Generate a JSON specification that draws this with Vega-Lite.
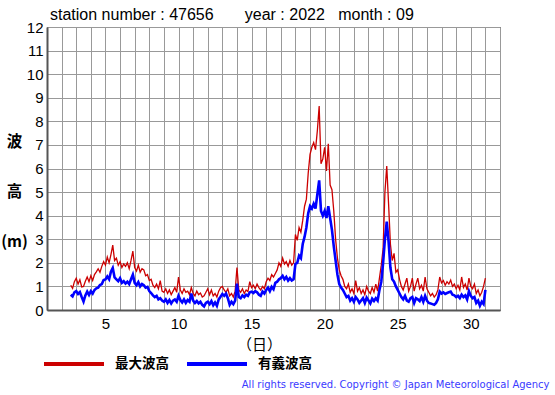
{
  "$schema": "https://vega.github.io/schema/vega-lite/v6.json",
  "width": 453,
  "height": 283,
  "autosize": {"type": "none"},
  "padding": {"left": 47, "top": 27, "right": 55, "bottom": 85},
  "background": "white",
  "title": {
    "text": "station number : 47656\u00a0\u00a0\u00a0\u00a0\u00a0\u00a0 year : 2022\u00a0\u00a0 month : 09",
    "anchor": "start",
    "frame": "group",
    "dx": 3,
    "dy": 22,
    "offset": 6,
    "baseline": "alphabetic",
    "font": "Liberation Sans",
    "fontSize": 16,
    "fontWeight": "normal",
    "color": "#000000"
  },
  "config": {
    "view": {"stroke": "#222222", "strokeWidth": 1},
    "axis": {
      "gridColor": "#999999",
      "gridWidth": 1,
      "gridOpacity": 1,
      "ticks": false,
      "domainColor": "#555555",
      "domainWidth": 2,
      "labelFont": "Liberation Sans",
      "labelFontSize": 15,
      "labelColor": "#000000",
      "labelFlush": false,
      "labelOverlap": false
    },
    "legend": {
      "orient": "none",
      "legendX": -5,
      "legendY": 305,
      "direction": "horizontal",
      "columns": 2,
      "padding": 0,
      "symbolType": "stroke",
      "symbolSize": 3600,
      "symbolStrokeWidth": 4,
      "labelFont": "Noto Sans CJK JP",
      "labelFontWeight": "bold",
      "labelFontSize": 13.5,
      "labelColor": "#000000",
      "labelOffset": 9,
      "columnPadding": 10,
      "title": null
    }
  },
  "data": {
    "values": [
      {"t":2.625,"max":1.05,"sig":0.65},{"t":2.75,"max":0.92,"sig":0.58},{"t":2.875,"max":1.2,"sig":0.75},
      {"t":3.0,"max":1.35,"sig":0.8},{"t":3.125,"max":1.1,"sig":0.68},{"t":3.25,"max":1.28,"sig":0.76},{"t":3.375,"max":0.98,"sig":0.55},{"t":3.5,"max":1.0,"sig":0.36},{"t":3.625,"max":1.22,"sig":0.62},{"t":3.75,"max":1.4,"sig":0.78},{"t":3.875,"max":1.2,"sig":0.64},
      {"t":4.0,"max":1.45,"sig":0.8},{"t":4.125,"max":1.25,"sig":0.7},{"t":4.25,"max":1.5,"sig":0.85},{"t":4.375,"max":1.62,"sig":0.92},{"t":4.5,"max":1.75,"sig":0.95},{"t":4.625,"max":1.6,"sig":1.06},{"t":4.75,"max":1.85,"sig":1.1},{"t":4.875,"max":2.05,"sig":1.27},
      {"t":5.0,"max":1.9,"sig":1.3},{"t":5.125,"max":2.25,"sig":1.42},{"t":5.25,"max":2.0,"sig":1.3},{"t":5.375,"max":2.35,"sig":1.62},{"t":5.5,"max":2.75,"sig":1.78},{"t":5.625,"max":2.1,"sig":1.38},{"t":5.75,"max":2.2,"sig":1.3},{"t":5.875,"max":1.9,"sig":1.22},
      {"t":6.0,"max":2.05,"sig":1.35},{"t":6.125,"max":1.8,"sig":1.15},{"t":6.25,"max":1.95,"sig":1.22},{"t":6.375,"max":1.85,"sig":1.12},{"t":6.5,"max":2.0,"sig":1.2},{"t":6.625,"max":1.75,"sig":1.1},{"t":6.75,"max":2.1,"sig":1.3},{"t":6.875,"max":2.5,"sig":1.5},
      {"t":7.0,"max":1.8,"sig":1.15},{"t":7.125,"max":1.65,"sig":1.05},{"t":7.25,"max":1.9,"sig":1.18},{"t":7.375,"max":1.6,"sig":1.0},{"t":7.5,"max":1.75,"sig":1.1},{"t":7.625,"max":1.7,"sig":1.05},{"t":7.75,"max":1.45,"sig":0.95},{"t":7.875,"max":1.5,"sig":0.98},
      {"t":8.0,"max":1.25,"sig":0.8},{"t":8.125,"max":1.3,"sig":0.72},{"t":8.25,"max":1.05,"sig":0.62},{"t":8.375,"max":0.95,"sig":0.55},{"t":8.5,"max":1.1,"sig":0.6},{"t":8.625,"max":0.9,"sig":0.45},{"t":8.75,"max":1.25,"sig":0.5},{"t":8.875,"max":0.8,"sig":0.4},
      {"t":9.0,"max":0.75,"sig":0.35},{"t":9.125,"max":0.9,"sig":0.45},{"t":9.25,"max":0.7,"sig":0.3},{"t":9.375,"max":0.85,"sig":0.42},{"t":9.5,"max":0.65,"sig":0.28},{"t":9.625,"max":0.8,"sig":0.4},{"t":9.75,"max":0.95,"sig":0.45},{"t":9.875,"max":0.75,"sig":0.35},
      {"t":10.0,"max":1.4,"sig":0.6},{"t":10.125,"max":0.85,"sig":0.42},{"t":10.25,"max":0.7,"sig":0.32},{"t":10.375,"max":0.9,"sig":0.45},{"t":10.5,"max":0.75,"sig":0.3},{"t":10.625,"max":0.8,"sig":0.42},{"t":10.75,"max":0.65,"sig":0.35},{"t":10.875,"max":0.95,"sig":0.7},
      {"t":11.0,"max":0.7,"sig":0.4},{"t":11.125,"max":0.6,"sig":0.3},{"t":11.25,"max":0.8,"sig":0.38},{"t":11.375,"max":0.65,"sig":0.28},{"t":11.5,"max":0.72,"sig":0.35},{"t":11.625,"max":0.55,"sig":0.22},{"t":11.75,"max":0.6,"sig":0.15},{"t":11.875,"max":0.75,"sig":0.3},
      {"t":12.0,"max":0.9,"sig":0.35},{"t":12.125,"max":0.65,"sig":0.25},{"t":12.25,"max":0.85,"sig":0.38},{"t":12.375,"max":0.6,"sig":0.2},{"t":12.5,"max":0.7,"sig":0.32},{"t":12.625,"max":0.55,"sig":0.18},{"t":12.75,"max":0.8,"sig":0.45},{"t":12.875,"max":0.95,"sig":0.56},
      {"t":13.0,"max":1.0,"sig":0.68},{"t":13.125,"max":0.85,"sig":0.6},{"t":13.25,"max":0.75,"sig":0.7},{"t":13.375,"max":0.9,"sig":0.5},{"t":13.5,"max":0.6,"sig":0.22},{"t":13.625,"max":0.7,"sig":0.35},{"t":13.75,"max":0.55,"sig":0.25},{"t":13.875,"max":0.8,"sig":0.4},
      {"t":14.0,"max":1.8,"sig":1.12},{"t":14.125,"max":0.85,"sig":0.55},{"t":14.25,"max":0.75,"sig":0.5},{"t":14.375,"max":0.9,"sig":0.62},{"t":14.5,"max":0.7,"sig":0.55},{"t":14.625,"max":0.85,"sig":0.65},{"t":14.75,"max":0.78,"sig":0.6},{"t":14.875,"max":1.2,"sig":0.75},
      {"t":15.0,"max":0.95,"sig":0.78},{"t":15.125,"max":1.05,"sig":0.72},{"t":15.25,"max":0.9,"sig":0.8},{"t":15.375,"max":1.1,"sig":0.75},{"t":15.5,"max":0.95,"sig":0.65},{"t":15.625,"max":0.85,"sig":0.6},{"t":15.75,"max":1.0,"sig":0.78},{"t":15.875,"max":0.9,"sig":0.7},
      {"t":16.0,"max":1.2,"sig":0.85},{"t":16.125,"max":1.35,"sig":0.95},{"t":16.25,"max":1.25,"sig":0.8},{"t":16.375,"max":1.5,"sig":0.98},{"t":16.5,"max":1.4,"sig":0.88},{"t":16.625,"max":1.55,"sig":1.15},{"t":16.75,"max":1.7,"sig":1.2},{"t":16.875,"max":2.0,"sig":1.3},
      {"t":17.0,"max":1.85,"sig":1.35},{"t":17.125,"max":2.2,"sig":1.45},{"t":17.25,"max":1.95,"sig":1.3},{"t":17.375,"max":2.05,"sig":1.4},{"t":17.5,"max":1.85,"sig":1.25},{"t":17.625,"max":2.1,"sig":1.35},{"t":17.75,"max":1.9,"sig":1.25},{"t":17.875,"max":2.0,"sig":1.3},
      {"t":18.0,"max":3.2,"sig":1.95},{"t":18.125,"max":2.95,"sig":2.0},{"t":18.25,"max":3.5,"sig":2.3},{"t":18.375,"max":3.3,"sig":2.2},{"t":18.5,"max":3.8,"sig":2.8},{"t":18.625,"max":4.4,"sig":3.1},{"t":18.75,"max":4.7,"sig":3.5},{"t":18.875,"max":5.8,"sig":4.1},
      {"t":19.0,"max":6.6,"sig":4.4},{"t":19.125,"max":6.9,"sig":4.3},{"t":19.25,"max":7.1,"sig":4.5},{"t":19.375,"max":6.8,"sig":4.3},{"t":19.5,"max":7.6,"sig":4.9},{"t":19.625,"max":8.65,"sig":5.5},{"t":19.75,"max":6.2,"sig":4.2},{"t":19.875,"max":6.4,"sig":4.0},
      {"t":20.0,"max":6.9,"sig":4.2},{"t":20.125,"max":5.9,"sig":3.9},{"t":20.25,"max":7.05,"sig":4.4},{"t":20.375,"max":5.3,"sig":3.9},{"t":20.5,"max":5.1,"sig":3.4},{"t":20.625,"max":4.2,"sig":2.7},{"t":20.75,"max":3.0,"sig":2.1},{"t":20.875,"max":2.2,"sig":1.5},
      {"t":21.0,"max":1.7,"sig":1.1},{"t":21.125,"max":1.45,"sig":0.95},{"t":21.25,"max":1.3,"sig":0.85},{"t":21.375,"max":1.0,"sig":0.7},{"t":21.5,"max":0.9,"sig":0.55},{"t":21.625,"max":1.1,"sig":0.6},{"t":21.75,"max":0.75,"sig":0.4},{"t":21.875,"max":0.9,"sig":0.5},
      {"t":22.0,"max":0.7,"sig":0.35},{"t":22.125,"max":1.25,"sig":0.55},{"t":22.25,"max":0.8,"sig":0.45},{"t":22.375,"max":0.95,"sig":0.3},{"t":22.5,"max":0.7,"sig":0.4},{"t":22.625,"max":0.85,"sig":0.5},{"t":22.75,"max":0.65,"sig":0.3},{"t":22.875,"max":1.0,"sig":0.52},
      {"t":23.0,"max":0.8,"sig":0.4},{"t":23.125,"max":0.7,"sig":0.28},{"t":23.25,"max":0.95,"sig":0.48},{"t":23.375,"max":0.75,"sig":0.38},{"t":23.5,"max":1.1,"sig":0.5},{"t":23.625,"max":0.8,"sig":0.4},{"t":23.75,"max":1.35,"sig":0.85},{"t":23.875,"max":1.9,"sig":1.2},
      {"t":24.0,"max":2.6,"sig":2.0},{"t":24.125,"max":5.0,"sig":3.0},{"t":24.25,"max":6.1,"sig":3.75},{"t":24.375,"max":4.5,"sig":2.9},{"t":24.5,"max":2.8,"sig":1.8},{"t":24.625,"max":2.1,"sig":1.3},{"t":24.75,"max":2.4,"sig":1.2},{"t":24.875,"max":1.6,"sig":1.0},
      {"t":25.0,"max":1.7,"sig":0.85},{"t":25.125,"max":1.3,"sig":0.7},{"t":25.25,"max":1.0,"sig":0.55},{"t":25.375,"max":0.85,"sig":0.45},{"t":25.5,"max":1.1,"sig":0.6},{"t":25.625,"max":1.35,"sig":0.4},{"t":25.75,"max":0.8,"sig":0.35},{"t":25.875,"max":1.0,"sig":0.5},
      {"t":26.0,"max":1.35,"sig":0.55},{"t":26.125,"max":0.8,"sig":0.3},{"t":26.25,"max":1.1,"sig":0.5},{"t":26.375,"max":1.35,"sig":0.45},{"t":26.5,"max":0.9,"sig":0.38},{"t":26.625,"max":1.05,"sig":0.55},{"t":26.75,"max":0.8,"sig":0.35},{"t":26.875,"max":1.4,"sig":0.6},
      {"t":27.0,"max":0.9,"sig":0.4},{"t":27.125,"max":0.75,"sig":0.3},{"t":27.25,"max":0.6,"sig":0.28},{"t":27.375,"max":0.7,"sig":0.25},{"t":27.5,"max":0.55,"sig":0.22},{"t":27.625,"max":0.65,"sig":0.3},{"t":27.75,"max":0.85,"sig":0.45},{"t":27.875,"max":1.4,"sig":0.78},
      {"t":28.0,"max":1.15,"sig":0.7},{"t":28.125,"max":1.25,"sig":0.75},{"t":28.25,"max":1.05,"sig":0.68},{"t":28.375,"max":1.2,"sig":0.72},{"t":28.5,"max":1.1,"sig":0.75},{"t":28.625,"max":1.27,"sig":0.78},{"t":28.75,"max":1.0,"sig":0.65},{"t":28.875,"max":1.1,"sig":0.62},
      {"t":29.0,"max":0.9,"sig":0.55},{"t":29.125,"max":1.05,"sig":0.6},{"t":29.25,"max":0.85,"sig":0.5},{"t":29.375,"max":1.4,"sig":0.65},{"t":29.5,"max":0.95,"sig":0.55},{"t":29.625,"max":1.1,"sig":0.62},{"t":29.75,"max":0.85,"sig":0.45},{"t":29.875,"max":1.35,"sig":0.8},
      {"t":30.0,"max":1.0,"sig":0.6},{"t":30.125,"max":0.9,"sig":0.5},{"t":30.25,"max":1.1,"sig":0.55},{"t":30.375,"max":0.7,"sig":0.3},{"t":30.5,"max":0.85,"sig":0.4},{"t":30.625,"max":0.6,"sig":0.18},{"t":30.75,"max":0.75,"sig":0.35},{"t":30.875,"max":1.0,"sig":0.25},
      {"t":31.0,"max":1.35,"sig":0.85}
    ]
  },
  "resolve": {"axis": {"y": "independent"}},
  "layer": [
    {
      "mark": {"type": "line", "strokeWidth": 1.3, "clip": true},
      "encoding": {
        "x": {
          "field": "t", "type": "quantitative",
          "scale": {"domain": [1, 32], "nice": false, "zero": false},
          "axis": {
            "values": [1,2,3,4,5,6,7,8,9,10,11,12,13,14,15,16,17,18,19,20,21,22,23,24,25,26,27,28,29,30,31,32],
            "labelExpr": "datum.value % 5 == 0 ? datum.label : ''",
            "labelPadding": 6,
            "grid": true,
            "title": "（日）",
            "titleFont": "Noto Sans CJK JP",
            "titleFontSize": 15,
            "titleFontWeight": "normal",
            "titleColor": "#000000",
            "titleX": 212,
            "titleY": 34,
            "titleBaseline": "middle",
            "titleAlign": "center"
          }
        },
        "y": {
          "field": "max", "type": "quantitative",
          "scale": {"domain": [0, 12], "nice": false},
          "axis": {
            "values": [0,1,2,3,4,5,6,7,8,9,10,11,12],
            "labelPadding": 4,
            "grid": true,
            "title": ["波", "高", "(m)"],
            "titleAngle": 0,
            "titleX": -33,
            "titleY": 114,
            "titleAlign": "center",
            "titleBaseline": "middle",
            "titleLineHeight": 50,
            "titleFont": "Noto Sans CJK JP",
            "titleFontSize": 15.5,
            "titleFontWeight": "bold",
            "titleColor": "#000000"
          }
        },
        "color": {
          "datum": "最大波高",
          "type": "nominal",
          "scale": {"domain": ["最大波高", "有義波高"], "range": ["#cc0000", "#0000ff"]},
          "legend": {}
        }
      }
    },
    {
      "mark": {"type": "line", "strokeWidth": 2.6, "clip": true},
      "encoding": {
        "x": {
          "field": "t", "type": "quantitative",
          "scale": {"domain": [1, 32], "nice": false, "zero": false},
          "axis": {
            "values": [1,2,3,4,5,6,7,8,9,10,11,12,13,14,15,16,17,18,19,20,21,22,23,24,25,26,27,28,29,30,31,32],
            "labelExpr": "datum.value % 5 == 0 ? datum.label : ''",
            "labelPadding": 6,
            "grid": true,
            "title": "（日）",
            "titleFont": "Noto Sans CJK JP",
            "titleFontSize": 15,
            "titleFontWeight": "normal",
            "titleColor": "#000000",
            "titleX": 212,
            "titleY": 34,
            "titleBaseline": "middle",
            "titleAlign": "center"
          }
        },
        "y": {
          "field": "sig", "type": "quantitative",
          "scale": {"domain": [0, 12], "nice": false},
          "axis": {
            "orient": "right",
            "labels": false,
            "ticks": false,
            "domain": false,
            "grid": false,
            "title": "All rights reserved. Copyright © Japan Meteorological Agency",
            "titleAngle": 0,
            "titleX": 49,
            "titleY": 360,
            "titleAlign": "right",
            "titleBaseline": "alphabetic",
            "titleFont": "DejaVu Sans",
            "titleFontSize": 10,
            "titleFontWeight": "normal",
            "titleColor": "#3a3aff"
          }
        },
        "color": {"datum": "有義波高", "type": "nominal"}
      }
    }
  ]
}
